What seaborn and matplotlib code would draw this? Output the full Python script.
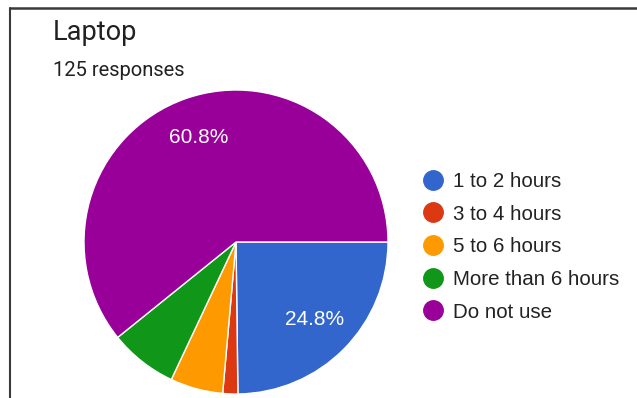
import matplotlib
matplotlib.use("Agg")
import matplotlib.pyplot as plt
from matplotlib.lines import Line2D
import seaborn as sns

# Survey answers: daily laptop usage
categories = ["1 to 2 hours", "3 to 4 hours", "5 to 6 hours", "More than 6 hours", "Do not use"]
counts = [31, 2, 7, 9, 76]
colors = ["#3366cc", "#dc3912", "#ff9900", "#109618", "#990099"]
title = "Laptop"
total_responses = sum(counts)

sns.set_theme(style="white")
plt.rcParams["font.family"] = ["Roboto", "DejaVu Sans"]
chart_font = ["Liberation Sans", "DejaVu Sans"]
palette = sns.color_palette(colors)

W, H = 637, 398
fig = plt.figure(figsize=(W / 100, H / 100), dpi=100)
fig.patch.set_facecolor("white")

# pie axes: centre (236, 242) px, radius 152 px
cx, cy, r = 236, 242, 152
ax = fig.add_axes([(cx - r) / W, (H - cy - r) / H, 2 * r / W, 2 * r / H])


def pct_label(p):
    return f"{p:.1f}%" if p >= 10 else ""


wedges, _, autotexts = ax.pie(
    counts,
    colors=palette,
    startangle=0,
    counterclock=False,
    radius=1.0,
    autopct=pct_label,
    pctdistance=0.73,
    wedgeprops=dict(edgecolor="white", linewidth=1.0),
    textprops=dict(color="white", fontsize=15, family=chart_font),
)
ax.set_xlim(-1, 1)
ax.set_ylim(-1, 1)
ax.set_aspect("equal")
ax.axis("off")

# legend with round markers
handles = [
    Line2D([0], [0], marker="o", linestyle="none", markersize=14,
           markerfacecolor=c, markeredgecolor=c)
    for c in palette
]
fig.legend(
    handles, categories,
    loc="upper left",
    bbox_to_anchor=(423 / W, (H - 172) / H),
    frameon=False,
    prop=dict(family=chart_font, size=14.8),
    labelspacing=0.665,
    handlelength=1.0,
    handletextpad=0.45,
    borderpad=0,
    borderaxespad=0,
    labelcolor="#222222",
)

# header
fig.text(53 / W, (H - 39.5) / H, title, fontsize=19.5, color="#212121",
         ha="left", va="baseline")
fig.text(53 / W, (H - 75.5) / H, f"{total_responses} responses", fontsize=14.5,
         color="#212121", ha="left", va="baseline")

# card border (top and left edges)
fig.add_artist(Line2D([10 / W, 1.0], [(H - 7.5) / H] * 2, color="#3a3a3a",
                      linewidth=1.8, transform=fig.transFigure))
fig.add_artist(Line2D([10 / W] * 2, [0, (H - 7.5) / H], color="#3a3a3a",
                      linewidth=1.5, transform=fig.transFigure))

fig.savefig("out.png", dpi=100)
